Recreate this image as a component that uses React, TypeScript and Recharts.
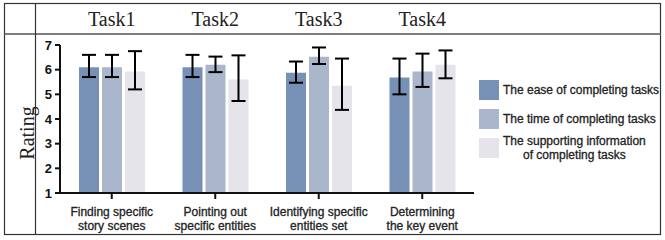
import React from 'react';
import { BarChart, Bar, XAxis, YAxis, ErrorBar } from 'recharts';

// --- data ---
const tasks = ['Task1', 'Task2', 'Task3', 'Task4'];
const categories = [
  'Finding specific\nstory scenes',
  'Pointing out\nspecific entities',
  'Identifying specific\nentities set',
  'Determining\nthe key event',
];
const yTicks = [1, 2, 3, 4, 5, 6, 7];

// mean, lower bound, upper bound
const easeMean = [6.1, 6.1, 5.87, 5.68];
const easeLow = [5.7, 5.7, 5.47, 5.0];
const easeHigh = [6.6, 6.6, 6.33, 6.45];

const timeMean = [6.1, 6.2, 6.52, 5.93];
const timeLow = [5.7, 5.9, 6.23, 5.3];
const timeHigh = [6.6, 6.53, 6.9, 6.65];

const infoMean = [5.93, 5.6, 5.35, 6.2];
const infoLow = [5.2, 4.73, 4.37, 5.65];
const infoHigh = [6.75, 6.58, 6.45, 6.78];

const seriesNames = [
  'The ease of completing tasks',
  'The time of completing tasks',
  'The supporting information\nof completing tasks',
];
const colors = ['#7790b5', '#a9b6cb', '#e4e4ea'];

const data = categories.map((c, i) => ({
  cat: c,
  task: tasks[i],
  ease: easeMean[i],
  easeErr: [easeMean[i] - easeLow[i], easeHigh[i] - easeMean[i]],
  time: timeMean[i],
  timeErr: [timeMean[i] - timeLow[i], timeHigh[i] - timeMean[i]],
  info: infoMean[i],
  infoErr: [infoMean[i] - infoLow[i], infoHigh[i] - infoMean[i]],
}));

const sans = '"Liberation Sans", Arial, sans-serif';
const serif = '"Liberation Serif", "Times New Roman", serif';

const TaskTick = ({ x, payload }: any) => (
  <text x={x} y={26} textAnchor="middle" fontFamily={serif} fontSize={20} fill="#222">
    {payload.value}
  </text>
);

const CatTick = ({ x, payload }: any) => {
  const lines = String(payload.value).split('\n');
  return (
    <text textAnchor="middle" fontFamily={sans} fontSize={12} fill="#222" stroke="#222" strokeWidth={0.3}>
      {lines.map((l, i) => (
        <tspan key={i} x={x} y={216 + i * 13.5}>{l}</tspan>
      ))}
    </text>
  );
};

const YTick = ({ x, y, payload }: any) => (
  <text x={x} y={y + 4.5} textAnchor="end" fontFamily={sans} fontSize={13} fontWeight="bold" fill="#111">
    {payload.value}
  </text>
);

// legend drawn as plain html so it does not eat into the plot area
const ChartLegend = () => (
  <div
    style={{
      position: 'absolute', left: 479, top: 80,
      fontFamily: sans, fontSize: 12, color: '#222', WebkitTextStroke: '0.3px #222',
    }}
  >
    {seriesNames.map((n, i) => (
      <div key={i} style={{ display: 'flex', alignItems: 'center', height: 20, marginBottom: 9 }}>
        <div style={{ width: 20, height: 20, background: colors[i], flexShrink: 0 }} />
        <div style={{ marginLeft: 4, whiteSpace: 'pre', textAlign: 'center', lineHeight: '14px' }}>{n}</div>
      </div>
    ))}
  </div>
);

export default function App() {
  return (
    <div style={{ position: 'absolute', left: 0, top: 0, width: 665, height: 240, background: '#fff' }}>
      <BarChart
        width={665}
        height={240}
        data={data}
        margin={{ top: 0, right: 191, bottom: 7, left: 40 }}
        barSize={20}
        barGap={3}
      >
        <XAxis
          xAxisId="top"
          dataKey="task"
          orientation="top"
          height={45}
          axisLine={false}
          tickLine={false}
          tick={<TaskTick />}
          interval={0}
        />
        <XAxis
          dataKey="cat"
          height={40}
          axisLine={{ stroke: '#111', strokeWidth: 2 }}
          tickLine={{ stroke: '#111', strokeWidth: 2 }}
          tickSize={6}
          tick={<CatTick />}
          interval={0}
        />
        <YAxis
          domain={[1, 7]}
          ticks={yTicks}
          width={20}
          axisLine={{ stroke: '#111', strokeWidth: 2 }}
          tickLine={{ stroke: '#111', strokeWidth: 2 }}
          tickSize={5}
          tickMargin={3}
          tick={<YTick />}
          interval={0}
        />
        <Bar dataKey="ease" name={seriesNames[0]} fill={colors[0]} isAnimationActive={false}>
          <ErrorBar dataKey="easeErr" width={7} stroke="#000" strokeWidth={2} />
        </Bar>
        <Bar dataKey="time" name={seriesNames[1]} fill={colors[1]} isAnimationActive={false}>
          <ErrorBar dataKey="timeErr" width={7} stroke="#000" strokeWidth={2} />
        </Bar>
        <Bar dataKey="info" name={seriesNames[2]} fill={colors[2]} isAnimationActive={false}>
          <ErrorBar dataKey="infoErr" width={7} stroke="#000" strokeWidth={2} />
        </Bar>
      </BarChart>
      <ChartLegend />
      <svg width={665} height={240} style={{ position: 'absolute', left: 0, top: 0, pointerEvents: 'none' }}>
        <rect x={4.5} y={3.5} width={656} height={231} fill="none" stroke="#333" strokeWidth={1.2} />
        <line x1={4} y1={34} x2={661} y2={34} stroke="#555" strokeWidth={1.5} />
        <line x1={35.5} y1={3} x2={35.5} y2={235} stroke="#333" strokeWidth={1.2} />
        <text
          x={27}
          y={133}
          transform="rotate(-90 27 133)"
          textAnchor="middle"
          dominantBaseline="central"
          fontFamily={serif}
          fontSize={20}
          fill="#222"
        >
          Rating
        </text>
      </svg>
    </div>
  );
}
